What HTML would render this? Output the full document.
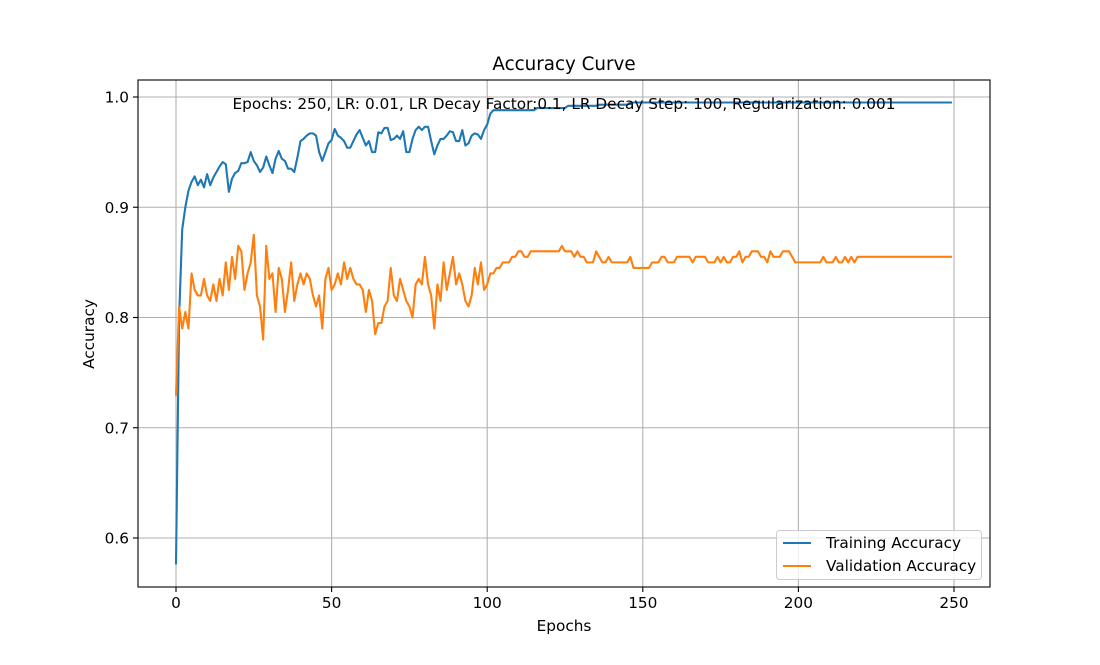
<!DOCTYPE html>
<html><head><meta charset="utf-8"><style>
body{margin:0;background:#fff;}
svg text{font-family:"DejaVu Sans","Liberation Sans",sans-serif;fill:#000;}
</style></head><body>
<svg id="chart" width="1100" height="660" xmlns="http://www.w3.org/2000/svg">
<rect width="1100" height="660" fill="#fff"/>
<g id="grid"></g>
<g id="lines"></g>
<rect x="138" y="80" width="852" height="507" fill="none" stroke="#000" stroke-width="1.1"/>
<g id="ticks"></g>
<text x="564" y="70" font-size="18.3" text-anchor="middle">Accuracy Curve</text>
<text x="564" y="631" font-size="15.3" text-anchor="middle">Epochs</text>
<text x="94" y="334" font-size="15.3" text-anchor="middle" transform="rotate(-90 94 334)">Accuracy</text>
<text x="564" y="109" font-size="15.3" text-anchor="middle">Epochs: 250, LR: 0.01, LR Decay Factor:0.1, LR Decay Step: 100, Regularization: 0.001</text>
<g>
<rect x="776.5" y="530.5" width="205" height="49" rx="3" fill="#fff" fill-opacity="0.8" stroke="#ccc"/>
<line x1="783" y1="543" x2="811" y2="543" stroke="#1f77b4" stroke-width="2.1"/>
<text x="826" y="548" font-size="15.3">Training Accuracy</text>
<line x1="783" y1="566" x2="811" y2="566" stroke="#ff7f0e" stroke-width="2.1"/>
<text x="826" y="571" font-size="15.3">Validation Accuracy</text>
</g>
</svg>
<script>
const xTicks=[0,50,100,150,200,250];
const yTicks=[0.6,0.7,0.8,0.9,1.0];
const yTickLabels=["0.6","0.7","0.8","0.9","1.0"];
const trainAcc=[.577,.80,.88,.90,.915,.923,.928,.92,.925,.918,
.93,.92,.927,.932,.937,.941,.939,.914,.926,.931,
.933,.94,.94,.941,.95,.942,.938,.932,.936,.946,
.938,.931,.944,.951,.944,.942,.935,.935,.932,.945,
.96,.962,.965,.967,.967,.965,.95,.942,.95,.958,
.961,.971,.965,.963,.96,.954,.954,.96,.966,.97,
.963,.956,.96,.95,.95,.968,.967,.972,.972,.961,
.962,.965,.962,.969,.95,.95,.962,.97,.973,.97,
.973,.973,.96,.948,.956,.962,.962,.965,.969,.968,
.96,.96,.97,.956,.958,.965,.967,.966,.962,.97,
.975,.985,.988,.988,.988,.988,.988,.988,.988,.988,
.988,.988,.988,.988,.988,.988,.99,.99,.99,.99,
.99,.99,.99,.99,.99,.99,.992,.992,.992,.992,
.992,.992,.992,.992,.992,.992,.993,.993,.993,.993,
.993,.993,.993,.993,.993,.993,.995,.995,.995,.995,
.995,.995,.995,.995,.995,.995,.995,.995,.995,.995,
.995,.995,.995,.995,.995,.995,.995,.995,.995,.995,
.995,.995,.995,.995,.995,.995,.995,.995,.995,.995,
.995,.995,.995,.995,.995,.995,.995,.995,.995,.995,
.995,.995,.995,.995,.995,.995,.995,.995,.995,.995,
.995,.995,.995,.995,.995,.995,.995,.995,.995,.995,
.995,.995,.995,.995,.995,.995,.995,.995,.995,.995,
.995,.995,.995,.995,.995,.995,.995,.995,.995,.995,
.995,.995,.995,.995,.995,.995,.995,.995,.995,.995,
.995,.995,.995,.995,.995,.995,.995,.995,.995,.995];
const valAcc=[.73,.81,.79,.805,.79,.84,.825,.82,.82,.835,
.82,.815,.83,.815,.835,.82,.85,.825,.855,.835,
.865,.86,.825,.84,.85,.875,.82,.81,.78,.865,
.835,.84,.805,.845,.835,.805,.825,.85,.815,.83,
.84,.83,.84,.835,.82,.81,.82,.79,.835,.845,
.825,.83,.84,.83,.85,.835,.845,.835,.83,.83,
.825,.805,.825,.815,.785,.795,.795,.81,.815,.845,
.82,.815,.835,.825,.815,.81,.80,.83,.835,.83,
.855,.83,.82,.79,.83,.815,.85,.825,.84,.855,
.83,.84,.83,.815,.81,.82,.845,.83,.85,.825,
.83,.84,.84,.845,.845,.85,.85,.85,.855,.855,
.86,.86,.855,.855,.86,.86,.86,.86,.86,.86,
.86,.86,.86,.86,.865,.86,.86,.86,.855,.86,
.855,.855,.85,.85,.85,.86,.855,.85,.85,.855,
.85,.85,.85,.85,.85,.85,.855,.845,.845,.845,
.845,.845,.845,.85,.85,.85,.855,.855,.85,.85,
.85,.855,.855,.855,.855,.855,.85,.855,.855,.855,
.855,.85,.85,.85,.855,.85,.855,.85,.85,.855,
.855,.86,.85,.855,.855,.86,.86,.86,.855,.855,
.85,.86,.855,.855,.855,.86,.86,.86,.855,.85,
.85,.85,.85,.85,.85,.85,.85,.85,.855,.85,
.85,.85,.855,.85,.85,.855,.85,.855,.85,.855,
.855,.855,.855,.855,.855,.855,.855,.855,.855,.855,
.855,.855,.855,.855,.855,.855,.855,.855,.855,.855,
.855,.855,.855,.855,.855,.855,.855,.855,.855,.855];

const NS='http://www.w3.org/2000/svg';
const X=e=>176+e*(954-176)/250;
const Y=v=>538-(v-0.6)*(538-97)/0.4;
const grid=document.getElementById('grid'),ticks=document.getElementById('ticks'),lines=document.getElementById('lines');
function mk(tag,attrs,parent){const el=document.createElementNS(NS,tag);for(const k in attrs)el.setAttribute(k,attrs[k]);parent.appendChild(el);return el;}
xTicks.forEach(t=>{
  const g=mk('line',{x1:X(t),x2:X(t),y1:80,y2:587,stroke:'#b0b0b0','stroke-width':1.1},grid);
  
  
  mk('line',{x1:X(t),x2:X(t),y1:587,y2:592,stroke:'#000','stroke-width':1.1},ticks);
  const tx=mk('text',{x:X(t),y:608,'font-size':15.3,'text-anchor':'middle'},ticks);
  tx.textContent=t;
  
  
});
yTicks.forEach((t,i)=>{
  const g=mk('line',{x1:138,x2:990,y1:Y(t),y2:Y(t),stroke:'#b0b0b0','stroke-width':1.1},grid);
  
  
  mk('line',{x1:133,x2:138,y1:Y(t),y2:Y(t),stroke:'#000','stroke-width':1.1},ticks);
  const tx=mk('text',{x:129,y:Y(t)+5.5,'font-size':15.3,'text-anchor':'end'},ticks);
  tx.textContent=yTickLabels[i];
  
  
});
function series(arr,color,name){
  const d=arr.map((v,i)=>(i?'L':'M')+X(i).toFixed(2)+','+Y(v).toFixed(2)).join('');
  const p=mk('path',{d:d,fill:'none',stroke:color,'stroke-width':2.1,'stroke-linejoin':'round','stroke-linecap':'square'},lines);
  
  
}
series(trainAcc,'#1f77b4','training-accuracy-line');
series(valAcc,'#ff7f0e','validation-accuracy-line');
</script>
</body></html>
